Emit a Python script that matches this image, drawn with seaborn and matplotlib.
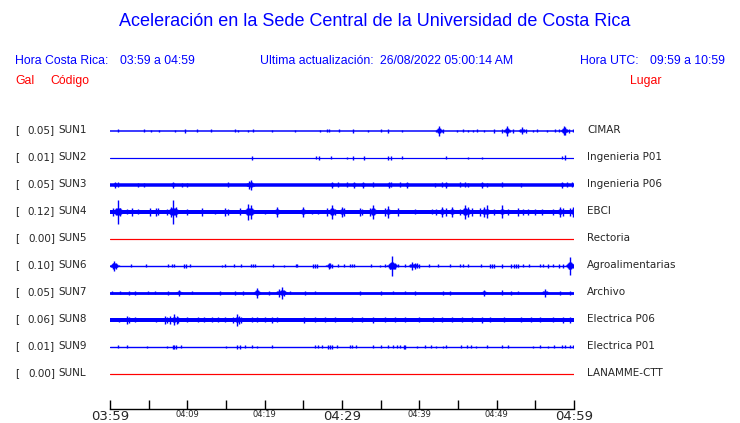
import numpy as np
import pandas as pd
import matplotlib
matplotlib.use("Agg")
import matplotlib.pyplot as plt
import seaborn as sns

# station codes, gain (Gal) and site names, top to bottom
codes = ['SUN1', 'SUN2', 'SUN3', 'SUN4', 'SUN5', 'SUN6', 'SUN7', 'SUN8', 'SUN9', 'SUNL']
gals = [0.05, 0.01, 0.05, 0.12, 0.00, 0.10, 0.05, 0.06, 0.01, 0.00]
sites = ['CIMAR', 'Ingenieria P01', 'Ingenieria P06', 'EBCI', 'Rectoria',
         'Agroalimentarias', 'Archivo', 'Electrica P06', 'Electrica P01', 'LANAMME-CTT']

# background noise band of each trace (total width, px)
noise = [1.5, 1.2, 3.5, 4.0, 1.2, 1.4, 2.8, 4.0, 1.4, 1.2]
trace_colors = ['blue'] * 4 + ['red'] + ['blue'] * 4 + ['red']

# minutes after 03:59 / half amplitude (px) of the bursts
sun1 = [(0.99, 1.5), (4.4, 1.5), (5.26, 1), (6.38, 1), (8.45, 1), (9.7, 2), (11.2, 1.5), (13.06, 1.5),
        (16.2, 1.5), (16.6, 1), (17.8, 1), (18.45, 1.5), (21.0, 1), (23.96, 1), (27.2, 1), (28.0, 1.5),
        (28.3, 1.5), (29.65, 1.5), (31.4, 2), (33.4, 1), (35.0, 1.5), (36.0, 2), (37.8, 1), (42.55, 5),
        (43.1, 2), (44.9, 1), (45.7, 1.5), (46.25, 1), (47.0, 1), (47.4, 1.5), (48.3, 1), (49.7, 2),
        (50.7, 2), (51.4, 5), (52.15, 2), (53.3, 3.5), (53.75, 2), (54.7, 1), (55.25, 1.5), (56.5, 1),
        (57.5, 1.5), (58.0, 1.5), (58.7, 4.5), (58.9, 4), (59.35, 2), (59.9, 1.5)]
sun2 = [(18.3, 2), (26.6, 1.5), (27.0, 2), (28.6, 1.5), (30.7, 1), (31.4, 2), (32.85, 2), (36.0, 2),
        (36.3, 2), (37.7, 1.5), (43.5, 1.5), (46.3, 1), (48.1, 1), (58.4, 1.5), (58.8, 2.5)]
sun3 = [(0.65, 3), (1.08, 2.5), (3.66, 2), (4.4, 2), (8.2, 3), (9.27, 2), (9.9, 2), (15.2, 2.5),
        (18.0, 4), (18.2, 5), (28.7, 3), (29.5, 2.5), (30.6, 2.5), (31.5, 3), (32.75, 3), (34.0, 2.5),
        (36.1, 3), (36.4, 2.5), (37.5, 2.5), (38.4, 3), (42.0, 2), (42.9, 2.5), (43.45, 3), (45.3, 2.5),
        (45.9, 2.5), (46.3, 2), (48.1, 3), (48.8, 2), (50.7, 2.5), (53.2, 2), (58.4, 3), (59.05, 2.5),
        (59.7, 2.5)]
sun4 = [(0.43, 4), (0.99, 12), (1.3, 4), (2.15, 2.5), (2.8, 4), (3.66, 2.5), (5.17, 4), (6.0, 4),
        (6.2, 3.5), (7.33, 3), (7.9, 5), (8.19, 12), (8.5, 5), (9.9, 3), (11.9, 4), (13.6, 2),
        (14.9, 4), (15.3, 3), (16.8, 3.5), (17.9, 8), (18.2, 7), (20.0, 2), (21.6, 5), (25.0, 5),
        (26.1, 2), (26.9, 2), (28.0, 4), (28.7, 7), (29.1, 3), (30.0, 5), (30.2, 4), (32.3, 4),
        (32.55, 3), (33.6, 4), (34.0, 7), (35.6, 4), (36.0, 6), (37.3, 4), (39.4, 2.5), (41.6, 2.5),
        (42.2, 3), (42.9, 5), (43.5, 4), (44.2, 5), (45.3, 3), (45.9, 7), (46.3, 5), (46.8, 4),
        (47.8, 4), (48.3, 5), (48.7, 6.5), (49.6, 3), (50.65, 6.5), (51.5, 3), (52.8, 4), (53.45, 3),
        (54.1, 3), (55.0, 3), (55.8, 3), (57.3, 3), (58.2, 5), (58.6, 4), (59.5, 4), (59.9, 5)]
sun5 = []
sun6 = [(0.4, 3), (0.56, 5), (0.75, 3), (2.7, 1.5), (4.6, 1.5), (7.46, 1.5), (7.98, 1.5), (8.28, 1.5),
        (9.6, 2), (9.8, 2), (10.3, 1.5), (14.5, 1), (14.9, 1.5), (16.0, 1.5), (16.9, 1.5), (18.2, 1.5),
        (18.5, 1.5), (18.8, 1.5), (21.1, 1.5), (22.5, 1), (24.0, 1.5), (24.2, 1.5), (26.2, 2), (26.5, 2),
        (26.8, 2), (28.3, 3), (28.5, 2.5), (28.75, 2), (29.5, 1.5), (30.2, 1.5), (31.0, 1.5), (31.3, 1.5),
        (31.5, 1.5), (33.8, 1.5), (34.9, 1), (35.6, 1.5), (36.2, 3), (36.5, 10), (36.85, 3), (37.3, 1.5),
        (38.1, 1.5), (39.1, 4), (39.4, 3), (39.7, 2.5), (39.9, 2), (41.2, 1.5), (42.45, 1.5), (44.0, 1.5),
        (45.3, 1.5), (45.7, 1.5), (46.3, 1.5), (48.0, 1.5), (49.1, 2), (49.4, 2), (49.6, 2), (50.65, 2),
        (51.9, 2), (52.2, 2), (52.5, 2), (52.8, 2), (53.45, 1.5), (54.2, 1.5), (55.6, 1.5), (56.0, 1.5),
        (56.7, 2), (57.3, 1.5), (58.0, 2), (58.6, 2), (59.3, 3), (59.5, 9), (59.9, 2)]
sun7 = [(0.2, 1.5), (1.3, 1.5), (2.4, 2), (3.2, 2), (4.9, 1.5), (5.8, 1.5), (7.46, 2), (8.97, 3),
        (10.6, 1.5), (14.2, 2), (16.2, 2), (17.2, 2), (19.0, 5), (20.5, 2), (21.9, 4), (22.2, 6),
        (22.5, 3), (23.3, 1.5), (25.2, 2), (26.5, 1.5), (32.3, 2), (35.0, 2), (36.6, 1.5), (38.1, 1.5),
        (39.4, 2), (43.1, 2), (44.0, 2), (48.3, 3), (50.65, 2.5), (51.9, 2), (52.8, 1.5), (56.25, 4),
        (58.2, 2), (59.5, 2)]
sun8 = [(1.1, 2), (2.15, 4), (2.4, 3), (3.2, 2.5), (6.0, 2), (7.1, 4), (7.4, 3), (7.76, 4),
        (8.3, 5.5), (8.6, 4), (8.8, 3), (9.9, 2.5), (11.4, 2.5), (12.2, 2.5), (13.15, 2.5), (14.0, 2.5),
        (14.9, 2.5), (15.9, 3), (16.4, 6), (16.7, 4), (17.0, 3), (18.3, 2.5), (19.0, 2.5), (20.0, 2.5),
        (20.9, 3), (21.6, 2.5), (25.1, 3), (26.5, 2.5), (27.8, 2.5), (29.1, 2.5), (31.25, 2.5), (32.55, 2.5),
        (34.05, 3), (35.6, 2.5), (36.85, 2.5), (38.1, 2.5), (39.9, 2.5), (41.8, 2.5), (42.9, 2.5), (44.2, 2.5),
        (45.5, 2.5), (46.8, 2.5), (48.1, 3), (49.1, 2.5), (50.9, 2.5), (53.2, 2.5), (54.5, 2.5), (55.6, 2.5),
        (57.3, 2.5), (58.6, 3), (59.5, 3)]
sun9 = [(0.99, 1.5), (2.15, 1.5), (4.8, 1), (7.4, 1), (8.1, 2), (8.3, 2), (8.5, 2), (9.2, 1.5),
        (15.0, 1), (16.4, 2), (16.8, 2), (17.4, 1.5), (18.3, 1.5), (19.05, 1), (21.0, 1.5), (26.5, 1.5),
        (26.9, 1.5), (27.45, 1.5), (28.2, 2), (28.5, 2), (28.7, 2), (29.4, 1.5), (31.0, 1.5), (31.3, 1.5),
        (31.8, 1.5), (34.05, 1.5), (35.1, 1.5), (36.0, 1.5), (36.55, 1.5), (37.1, 1.5), (37.5, 1.5), (38.0, 2),
        (38.2, 2), (39.7, 1), (40.7, 1.5), (41.5, 1.5), (42.2, 1), (43.0, 1), (43.5, 1.5), (45.35, 1.5),
        (46.1, 1.5), (46.65, 1.5), (47.3, 1), (48.7, 1.5), (50.65, 1.5), (51.5, 1.5), (54.7, 1),
        (55.6, 1.5), (56.7, 1), (57.45, 1.5), (58.4, 1.5), (58.9, 1.5), (59.5, 1.5), (59.9, 1.5)]
sunl = []
bursts = [sun1, sun2, sun3, sun4, sun5, sun6, sun7, sun8, sun9, sunl]

tick_minutes = [0, 5, 10, 15, 20, 25, 30, 35, 40, 45, 50, 55, 60]
tick_labels = ['03:59', '', '04:09', '', '04:19', '', '04:29', '', '04:39', '', '04:49', '', '04:59']
big_ticks = ['03:59', '04:29', '04:59']

W, H = 740, 423
ROW_PX = 27     # vertical spacing between traces
MIN_PX = 464 / 60  # px per minute

# coda of the larger bursts: neighbouring strokes (px offset) and their share of the peak
spread_px = [-3, -2, -1, 1, 2, 3]
spread_f = [0.2, 0.3, 0.45, 0.45, 0.3, 0.2]


def fx(x):
    return x / W


def fy(y):
    return 1 - y / H


sns.set_style("white")
plt.rcParams['font.family'] = ['DejaVu Sans']

fig = plt.figure(figsize=(W / 100, H / 100), dpi=100)
# trace area: x 110..574 px, rows centered at 130.5 + 27*i, time axis at 409 px
top0 = 130.5
ax = fig.add_axes([fx(110), fy(409), fx(574) - fx(110), fy(115) - fy(409)])
ax.set_xlim(0, 60)
ax.set_ylim((409 - top0) / ROW_PX, (115 - top0) / ROW_PX)

# baselines through seaborn, one line per station
base = pd.DataFrame({
    'minute': [0, 60] * len(codes),
    'row': np.repeat(np.arange(len(codes)), 2),
    'code': np.repeat(codes, 2),
})
sns.lineplot(data=base, x='minute', y='row', hue='code', size='code',
             palette=dict(zip(codes, trace_colors)),
             sizes=dict(zip(codes, [n * 0.72 for n in noise])),
             estimator=None, legend=False, ax=ax)

# bursts: a vertical stroke, plus a short tapering coda for the larger ones
for i, ev in enumerate(bursts):
    if not ev:
        continue
    t = np.array([e[0] for e in ev])
    a = np.array([e[1] for e in ev])
    xs, hs = [t], [a]
    big = a >= 3
    for o, f in zip(spread_px, spread_f):
        xs.append(t[big] + o / MIN_PX)
        hs.append(np.minimum(a[big] * f, 3.5))
    xs = np.concatenate(xs)
    hs = np.concatenate(hs) / ROW_PX
    keep = (xs >= 0) & (xs <= 60)
    ax.vlines(xs[keep], i - hs[keep], i + hs[keep], color=trace_colors[i], lw=1.0)

# time axis
for s in ['top', 'left', 'right']:
    ax.spines[s].set_visible(False)
ax.spines['bottom'].set_color('black')
ax.spines['bottom'].set_linewidth(1.0)
ax.set_yticks([])
ax.set_xticks(tick_minutes)
ax.set_xticklabels(tick_labels)
ax.tick_params(axis='x', bottom=True, direction='in', length=6.5, width=1, color='black', pad=1)
for lab in ax.get_xticklabels():
    if lab.get_text() in big_ticks:
        lab.set_fontsize(9.5)
    else:
        lab.set_fontsize(6)
ax.set_xlabel('')
ax.set_ylabel('')
ax.patch.set_alpha(0)

# header texts
hdr = dict(family=['Liberation Sans', 'DejaVu Sans'], va='center')
fig.text(fx(375), fy(22), 'Aceleración en la Sede Central de la Universidad de Costa Rica',
         color='blue', fontsize=13, ha='center', **hdr)
fig.text(fx(15), fy(61), 'Hora Costa Rica:', color='blue', fontsize=8.8, **hdr)
fig.text(fx(120), fy(61), '03:59 a 04:59', color='blue', fontsize=8.8, **hdr)
fig.text(fx(260), fy(61), 'Ultima actualización:', color='blue', fontsize=8.8, **hdr)
fig.text(fx(380), fy(61), '26/08/2022 05:00:14 AM', color='blue', fontsize=8.8, **hdr)
fig.text(fx(580), fy(61), 'Hora UTC:', color='blue', fontsize=8.8, **hdr)
fig.text(fx(650), fy(61), '09:59 a 10:59', color='blue', fontsize=8.8, **hdr)
fig.text(fx(15), fy(81), 'Gal', color='red', fontsize=8.8, **hdr)
fig.text(fx(50), fy(81), 'Código', color='red', fontsize=8.8, **hdr)
fig.text(fx(630), fy(81), 'Lugar', color='red', fontsize=8.8, **hdr)

# station labels
for i, (g, c, s) in enumerate(zip(gals, codes, sites)):
    y = fy(130 + ROW_PX * i)
    fig.text(fx(15), y, '[', fontsize=7.5, va='center')
    fig.text(fx(55), y, f'{g:.2f}]', fontsize=7.5, va='center', ha='right')
    fig.text(fx(58.5), y, c, fontsize=7.5, va='center')
    fig.text(fx(587), y, s, fontsize=7.5, va='center')

fig.savefig('out.png', dpi=100)
